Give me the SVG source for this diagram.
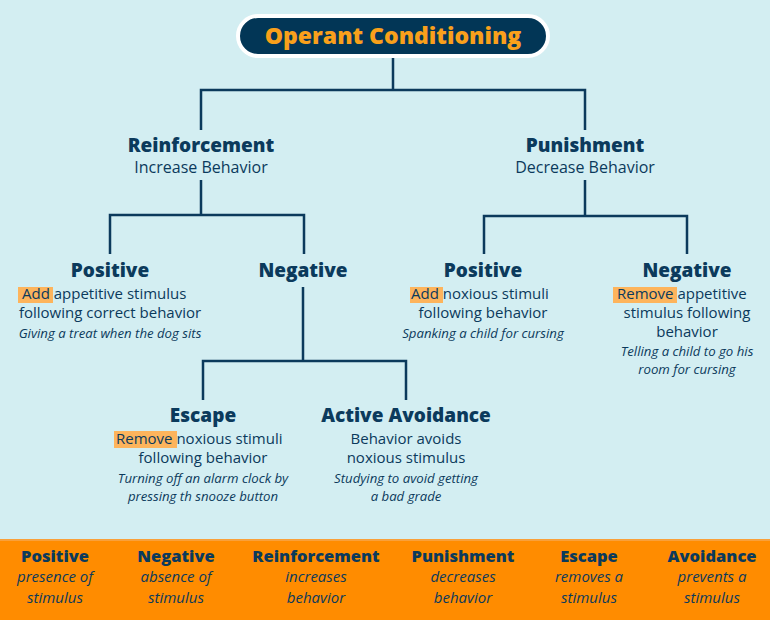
<svg xmlns="http://www.w3.org/2000/svg" width="770" height="620" viewBox="0 0 770 620">
<style>
text{font-family:"Open Sans","Liberation Sans",sans-serif;fill:#0B3A5C;text-anchor:middle}
.h{font-weight:800;font-size:19px}
.s{font-size:16px}
.d{font-size:15px}
.st{text-anchor:start}
.e{font-style:italic;font-size:13.2px}
.hl{fill:#FDB45C}
.ln{stroke:#0B3A5C;stroke-width:2.5;fill:none}
.lh{font-weight:800;font-size:16.5px}
.li{font-style:italic;font-size:15px}
</style>
<rect width="770" height="620" fill="#D3EEF2"/>
<rect x="0" y="540" width="770" height="80" fill="#FF8C00"/>
<rect x="0" y="539" width="770" height="2" fill="#F9A03A"/>
<g id="connectors">
<path class="ln" d="M393 56V90M201 130V90H585V130"/>
<path class="ln" d="M201 180V215M110 254V215H304V254"/>
<path class="ln" d="M585 180V216M484 254V216H687V254"/>
<path class="ln" d="M303 287V361M203 400V361H406V400"/>
</g>
<g id="title">
<rect x="238" y="16" width="310" height="40" rx="20" fill="#023656" stroke="#fff" stroke-width="4"/>
<text x="393" y="44" style="font-weight:800;font-size:23px;fill:#F9A01B">Operant Conditioning</text>
</g>
<g id="reinforcement">
<text class="h" x="201" y="152">Reinforcement</text>
<text class="s" x="201" y="173">Increase Behavior</text>
</g>
<g id="punishment">
<text class="h" x="585" y="152">Punishment</text>
<text class="s" x="585" y="173">Decrease Behavior</text>
</g>
<g id="r-positive">
<text class="h" x="110" y="277">Positive</text>
<rect class="hl" x="18" y="287" width="35" height="16"/>
<text class="d st" x="22" y="299">Add appetitive stimulus</text>
<text class="d" x="110" y="318">following correct behavior</text>
<text class="e" x="110" y="338">Giving a treat when the dog sits</text>
</g>
<g id="r-negative">
<text class="h" x="303" y="277">Negative</text>
</g>
<g id="escape">
<text class="h" x="203" y="422">Escape</text>
<rect class="hl" x="114" y="431" width="63" height="17"/>
<text class="d st" x="116" y="444">Remove noxious stimuli</text>
<text class="d" x="203" y="463">following behavior</text>
<text class="e" x="203" y="483">Turning off an alarm clock by</text>
<text class="e" x="203" y="501">pressing th snooze button</text>
</g>
<g id="active-avoidance">
<text class="h" x="406" y="422">Active Avoidance</text>
<text class="d" x="406" y="444">Behavior avoids</text>
<text class="d" x="406" y="463">noxious stimulus</text>
<text class="e" x="406" y="483">Studying to avoid getting</text>
<text class="e" x="406" y="501">a bad grade</text>
</g>
<g id="p-positive">
<text class="h" x="483" y="277">Positive</text>
<rect class="hl" x="410" y="287" width="33" height="16"/>
<text class="d st" x="411" y="299">Add noxious stimuli</text>
<text class="d" x="483" y="318">following behavior</text>
<text class="e" x="483" y="338">Spanking a child for cursing</text>
</g>
<g id="p-negative">
<text class="h" x="687" y="277">Negative</text>
<rect class="hl" x="613" y="287" width="64" height="16"/>
<text class="d st" x="617" y="299">Remove appetitive</text>
<text class="d" x="687" y="318">stimulus following</text>
<text class="d" x="687" y="337">behavior</text>
<text class="e" x="687" y="356">Telling a child to go his</text>
<text class="e" x="687" y="374">room for cursing</text>
</g>
<g id="legend">
<text class="lh" x="55" y="562">Positive</text>
<text class="li" x="55" y="582">presence of</text>
<text class="li" x="55" y="603">stimulus</text>
<text class="lh" x="176" y="562">Negative</text>
<text class="li" x="176" y="582">absence of</text>
<text class="li" x="176" y="603">stimulus</text>
<text class="lh" x="316" y="562">Reinforcement</text>
<text class="li" x="316" y="582">increases</text>
<text class="li" x="316" y="603">behavior</text>
<text class="lh" x="463" y="562">Punishment</text>
<text class="li" x="463" y="582">decreases</text>
<text class="li" x="463" y="603">behavior</text>
<text class="lh" x="589" y="562">Escape</text>
<text class="li" x="589" y="582">removes a</text>
<text class="li" x="589" y="603">stimulus</text>
<text class="lh" x="712" y="562">Avoidance</text>
<text class="li" x="712" y="582">prevents a</text>
<text class="li" x="712" y="603">stimulus</text>
</g>
</svg>
